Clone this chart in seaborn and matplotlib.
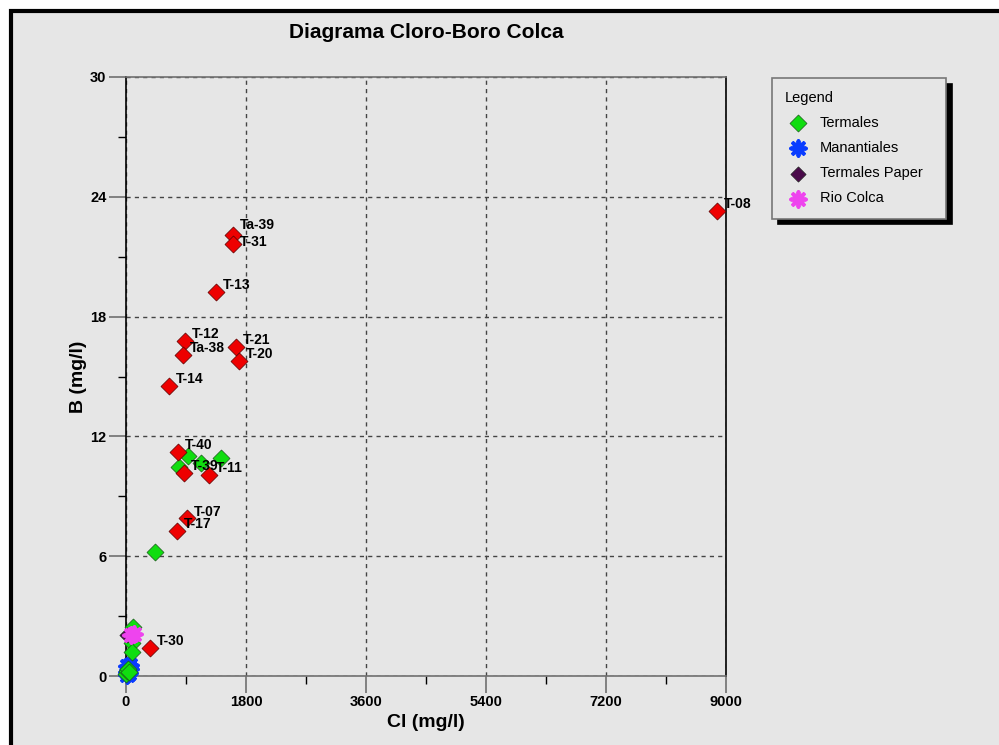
import matplotlib
matplotlib.use("Agg")
import matplotlib.pyplot as plt
from matplotlib.patches import Rectangle
from matplotlib.ticker import MultipleLocator
import seaborn as sns
import pandas as pd

# Labeled thermal samples (Cl mg/l, B mg/l)
red_names = ["T-08", "Ta-39", "T-31", "T-13", "T-12", "Ta-38", "T-21", "T-20",
             "T-14", "T-40", "T-39", "T-11", "T-07", "T-17", "T-30"]
red_cl = [8865, 1605, 1605, 1345, 885, 860, 1645, 1700,
          645, 785, 870, 1245, 910, 760, 360]
red_b = [23.28, 22.08, 21.62, 19.24, 16.79, 16.07, 16.46, 15.79,
         14.54, 11.23, 10.18, 10.07, 7.89, 7.28, 1.42]

# Termales
term_cl = [925, 1125, 1425, 800, 435, 110, 95, 85, 5, 15, 30, 45]
term_b = [11.02, 10.68, 10.90, 10.48, 6.19, 2.47, 1.67, 1.22, 0.10, 0.25, 0.35, 0.20]

# Manantiales
man_cl = [10, 20, 35, 50, 25, 60, 15, 40, 55]
man_b = [0.05, 0.20, 0.30, 0.45, 0.10, 0.35, 0.50, 0.15, 0.55]

# Termales Paper
paper_cl = [15]
paper_b = [2.05]

# Rio Colca
rio_cl = [120, 80]
rio_b = [2.12, 2.05]

x_ticks = [0, 1800, 3600, 5400, 7200, 9000]
y_ticks = [0, 6, 12, 18, 24, 30]

sns.set_style("ticks")
plt.rcParams["font.family"] = ["Liberation Sans", "DejaVu Sans"]
plt.rcParams["text.color"] = "black"
plt.rcParams["axes.labelcolor"] = "black"
plt.rcParams["xtick.labelcolor"] = "black"
plt.rcParams["ytick.labelcolor"] = "black"

BG = "#e6e6e6"
fig = plt.figure(figsize=(9.99, 7.45), dpi=100, facecolor="white")
fig.patches.append(Rectangle((10.5 / 999, -0.2), 1.5, 1 - 11 / 745 + 0.2,
                             transform=fig.transFigure, lw=3, ec="black",
                             fc=BG, zorder=-10))

ax = fig.add_axes([126 / 999, 1 - 676 / 745, 600 / 999, 599 / 745])
ax.set_facecolor(BG)

df_red = pd.DataFrame({"Cl": red_cl, "B": red_b, "name": red_names})
df_term = pd.DataFrame({"Cl": term_cl, "B": term_b})
df_man = pd.DataFrame({"Cl": man_cl, "B": man_b})
df_paper = pd.DataFrame({"Cl": paper_cl, "B": paper_b})
df_rio = pd.DataFrame({"Cl": rio_cl, "B": rio_b})

common = dict(ax=ax, x="Cl", y="B", clip_on=False, zorder=3)
sns.scatterplot(data=df_man, marker=(8, 2, 0), s=110, color="#0a3cff",
                linewidth=2.8, label="Manantiales", **common)
sns.scatterplot(data=df_term, marker="D", s=75, color="#10dd10",
                edgecolor="#1a5a1a", linewidth=0.5, label="Termales", **common)
sns.scatterplot(data=df_paper, marker="D", s=60, color="#4a0a4a",
                edgecolor="#222222", linewidth=0.5, label="Termales Paper", **common)
sns.scatterplot(data=df_rio, marker=(8, 2, 0), s=110, color="#ee44ee",
                linewidth=2.8, label="Rio Colca", **common)
sns.scatterplot(data=df_red, marker="D", s=75, color="#ee0000",
                edgecolor="#5a0000", linewidth=0.5, label="_nolegend_", **common)

# label offsets in points; the two stacked samples near Cl=1605 are spread apart
offsets = {"Ta-39": (5, 7), "T-31": (5, 2)}
for name, cx, by in zip(red_names, red_cl, red_b):
    ax.annotate(name, (cx, by), xytext=offsets.get(name, (5, 5)),
                textcoords="offset points", ha="left", va="center",
                fontsize=10, fontweight="bold", color="black", zorder=5)

ax.set_xlim(0, 9000)
ax.set_ylim(0, 30)
ax.set_xticks(x_ticks)
ax.set_yticks(y_ticks)
ax.xaxis.set_minor_locator(MultipleLocator(900))
ax.yaxis.set_minor_locator(MultipleLocator(3))
ax.tick_params(which="major", length=12, width=1.2, color="#707070",
               labelsize=10.5, pad=2)
ax.tick_params(which="minor", length=6, width=1, color="black")
for lab in ax.get_xticklabels() + ax.get_yticklabels():
    lab.set_fontweight("bold")

ax.grid(True, which="major", color="#444444", linestyle=(0, (3, 3)), linewidth=1)
for side in ["left", "right"]:
    ax.spines[side].set_color("black")
for side in ["top", "bottom"]:
    ax.spines[side].set_color("#707070")
for sp in ax.spines.values():
    sp.set_linewidth(1.2)
    sp.set_visible(True)

ax.set_title("Diagrama Cloro-Boro Colca", fontsize=15, fontweight="bold",
             pad=28, color="black")
ax.set_xlabel("Cl (mg/l)", fontsize=14, fontweight="bold", labelpad=3)
ax.set_ylabel("B (mg/l)", fontsize=14, fontweight="bold", labelpad=2)

handles, labels = ax.get_legend_handles_labels()
order = ["Termales", "Manantiales", "Termales Paper", "Rio Colca"]
hmap = dict(zip(labels, handles))
leg = ax.legend([hmap[k] for k in order], order, title="Legend",
                loc="upper left", mode="expand",
                bbox_to_anchor=(772 / 999, 1 - 218 / 745, 174 / 999, 140 / 745),
                bbox_transform=fig.transFigure, fancybox=False,
                shadow={"color": "black", "alpha": 1.0, "ox": 4, "oy": -4},
                facecolor=BG, edgecolor="#777777", framealpha=1,
                fontsize=10.5, title_fontsize=10.5, borderpad=0.9,
                labelspacing=0.76, handletextpad=0.6, handlelength=1.8,
                borderaxespad=0, markerscale=1.0)
leg._legend_box.align = "left"
leg.get_frame().set_linewidth(1.2)

fig.savefig("out.png", dpi=100, facecolor="white")
